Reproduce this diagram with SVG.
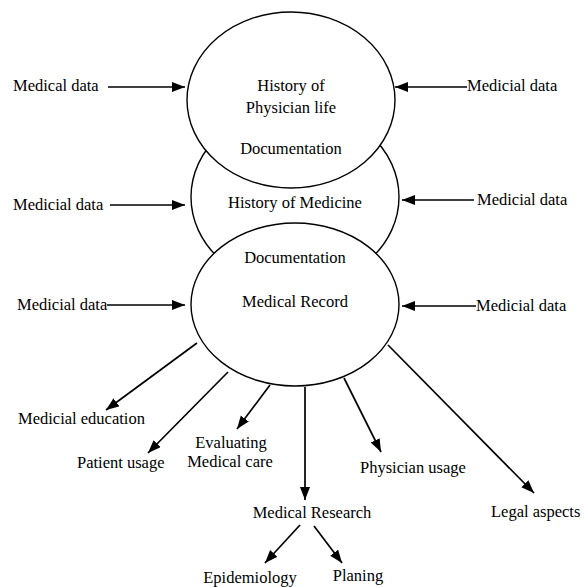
<svg xmlns="http://www.w3.org/2000/svg" width="586" height="587" viewBox="0 0 586 587">
<style>
  text { font-family: "Liberation Serif", "Times New Roman", serif; font-size: 16.5px; fill: #000; }
  .mid { text-anchor: middle; }
  .node ellipse { fill: #fff; stroke: #000; stroke-width: 1.4; }
  .conn line { stroke: #000; stroke-width: 1.7; marker-end: url(#arrow); }
</style>
<defs>
  <marker id="arrow" markerUnits="userSpaceOnUse" markerWidth="14" markerHeight="11" refX="13" refY="5" orient="auto">
    <path d="M0,0 L13,5 L0,10 z" fill="#000"/>
  </marker>
</defs>
<rect width="586" height="587" fill="#fff"/>
<g id="node-history-medicine" class="node">
  <ellipse cx="295" cy="197" rx="104" ry="90"/>
  <text class="mid" x="295" y="208">History of Medicine</text>
</g>
<g id="node-history-physician" class="node">
  <ellipse cx="291" cy="100" rx="104" ry="88"/>
  <text class="mid" x="291" y="91">History of</text>
  <text class="mid" x="291" y="113">Physician life</text>
  <text class="mid" x="291" y="154">Documentation</text>
</g>
<g id="node-medical-record" class="node">
  <ellipse cx="295" cy="304.5" rx="104" ry="81.5"/>
  <text class="mid" x="295" y="263">Documentation</text>
  <text class="mid" x="295" y="307">Medical Record</text>
</g>
<g id="labels">
  <text x="13" y="91">Medical data</text>
  <text x="467" y="91">Medicial data</text>
  <text x="13" y="210">Medicial data</text>
  <text x="477" y="205">Medicial data</text>
  <text x="17" y="310">Medicial data</text>
  <text x="476" y="311">Medicial data</text>
  <text x="18" y="424">Medicial education</text>
  <text x="77" y="468">Patient usage</text>
  <text class="mid" x="231" y="448">Evaluating</text>
  <text class="mid" x="230" y="467">Medical care</text>
  <text x="360" y="473">Physician usage</text>
  <text class="mid" x="312" y="518">Medical Research</text>
  <text x="491" y="517">Legal aspects</text>
  <text class="mid" x="250" y="583">Epidemiology</text>
  <text class="mid" x="358" y="581">Planing</text>
</g>
<g id="connectors" class="conn">
  <line x1="108" y1="87" x2="185" y2="87"/>
  <line x1="467" y1="87" x2="395" y2="87"/>
  <line x1="110" y1="205" x2="185" y2="205"/>
  <line x1="474" y1="200" x2="402" y2="200"/>
  <line x1="107" y1="305" x2="185" y2="305"/>
  <line x1="476" y1="306" x2="402" y2="306"/>
  <line x1="197" y1="343" x2="106" y2="410"/>
  <line x1="228" y1="372" x2="148" y2="453"/>
  <line x1="270" y1="385" x2="237" y2="429"/>
  <line x1="305" y1="387" x2="305" y2="500"/>
  <line x1="344" y1="378" x2="381" y2="452"/>
  <line x1="388" y1="345" x2="534" y2="493"/>
  <line x1="300" y1="525" x2="265" y2="563"/>
  <line x1="314" y1="526" x2="342" y2="563"/>
</g>
</svg>
